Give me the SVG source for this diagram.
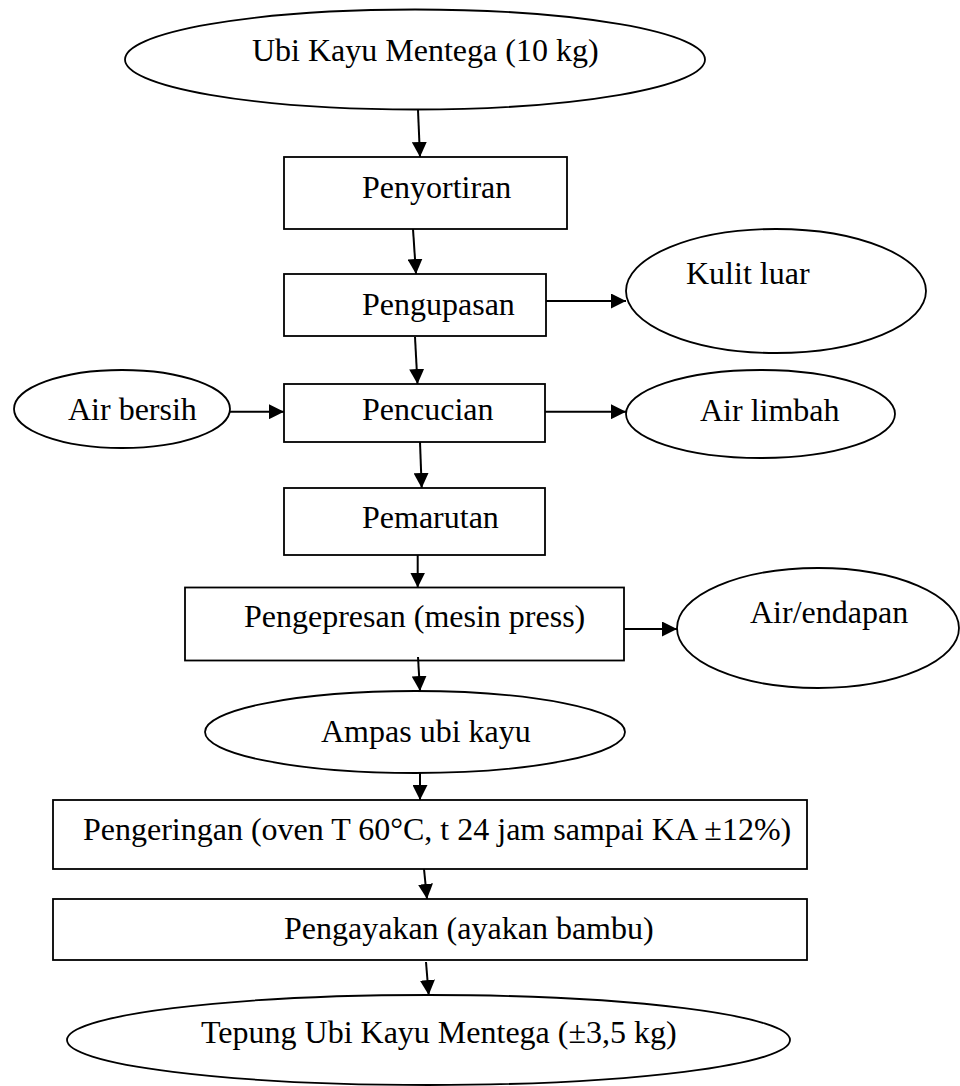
<svg xmlns="http://www.w3.org/2000/svg" width="960" height="1086" viewBox="0 0 960 1086">
<style>
.n{fill:#fff;stroke:#000;stroke-width:1.8}
.t{font-family:"Liberation Serif","Times New Roman",serif;font-size:32px;fill:#000}
.c line{stroke:#000;stroke-width:2}
</style>
<defs>
<marker id="ah" markerUnits="userSpaceOnUse" markerWidth="15" markerHeight="15" refX="15" refY="7.5" orient="auto">
<path d="M0,0 L15,7.5 L0,15 z" fill="#000"/>
</marker>
</defs>
<rect width="960" height="1086" fill="#fff"/>
<g id="n-ubi"><ellipse class="n" cx="415" cy="59.5" rx="290" ry="50"/><text class="t" x="252" y="61">Ubi Kayu Mentega (10 kg)</text></g>
<g id="n-sortir"><rect class="n" x="284" y="157" width="283" height="72"/><text class="t" x="362" y="198">Penyortiran</text></g>
<g id="n-kupas"><rect class="n" x="284" y="274" width="262" height="62"/><text class="t" x="362" y="315">Pengupasan</text></g>
<g id="n-kulit"><ellipse class="n" cx="776" cy="291" rx="150" ry="62"/><text class="t" x="686" y="284">Kulit luar</text></g>
<g id="n-airbersih"><ellipse class="n" cx="122" cy="409" rx="108" ry="39"/><text class="t" x="68" y="420">Air bersih</text></g>
<g id="n-cuci"><rect class="n" x="284" y="384" width="261" height="58"/><text class="t" x="362" y="420">Pencucian</text></g>
<g id="n-limbah"><ellipse class="n" cx="760.5" cy="414" rx="134.5" ry="44"/><text class="t" x="700" y="421">Air limbah</text></g>
<g id="n-parut"><rect class="n" x="284" y="488" width="261" height="67"/><text class="t" x="362" y="528">Pemarutan</text></g>
<g id="n-press"><rect class="n" x="185" y="587.5" width="439" height="73"/><text class="t" x="244" y="627">Pengepresan (mesin press)</text></g>
<g id="n-endapan"><ellipse class="n" cx="818" cy="628" rx="141" ry="60"/><text class="t" x="750" y="623">Air/endapan</text></g>
<g id="n-ampas"><ellipse class="n" cx="415" cy="732" rx="210" ry="41"/><text class="t" x="321" y="742">Ampas ubi kayu</text></g>
<g id="n-kering"><rect class="n" x="53" y="800" width="754" height="69"/><text class="t" x="83" y="840">Pengeringan (oven T 60°C, t 24 jam sampai KA ±12%)</text></g>
<g id="n-ayak"><rect class="n" x="53" y="899" width="754" height="61"/><text class="t" x="284" y="939">Pengayakan (ayakan bambu)</text></g>
<g id="n-tepung"><ellipse class="n" cx="428.5" cy="1040" rx="361.5" ry="45"/><text class="t" x="201" y="1043">Tepung Ubi Kayu Mentega (±3,5 kg)</text></g>
<g id="connectors" class="c">
<line x1="418" y1="110" x2="420" y2="157" marker-end="url(#ah)"/>
<line x1="413" y1="229" x2="416" y2="274" marker-end="url(#ah)"/>
<line x1="546" y1="301" x2="626" y2="301" marker-end="url(#ah)"/>
<line x1="415" y1="337" x2="417.5" y2="384" marker-end="url(#ah)"/>
<line x1="230" y1="411.7" x2="284" y2="411.7" marker-end="url(#ah)"/>
<line x1="545" y1="411.7" x2="626" y2="411.7" marker-end="url(#ah)"/>
<line x1="420" y1="442" x2="421.7" y2="488" marker-end="url(#ah)"/>
<line x1="417.7" y1="555" x2="417.7" y2="587.5" marker-end="url(#ah)"/>
<line x1="624" y1="629" x2="677" y2="629" marker-end="url(#ah)"/>
<line x1="418" y1="657" x2="420" y2="691" marker-end="url(#ah)"/>
<line x1="420" y1="773" x2="420" y2="800" marker-end="url(#ah)"/>
<line x1="424" y1="869" x2="427" y2="899" marker-end="url(#ah)"/>
<line x1="426" y1="962" x2="428.7" y2="995" marker-end="url(#ah)"/>
</g>
</svg>
